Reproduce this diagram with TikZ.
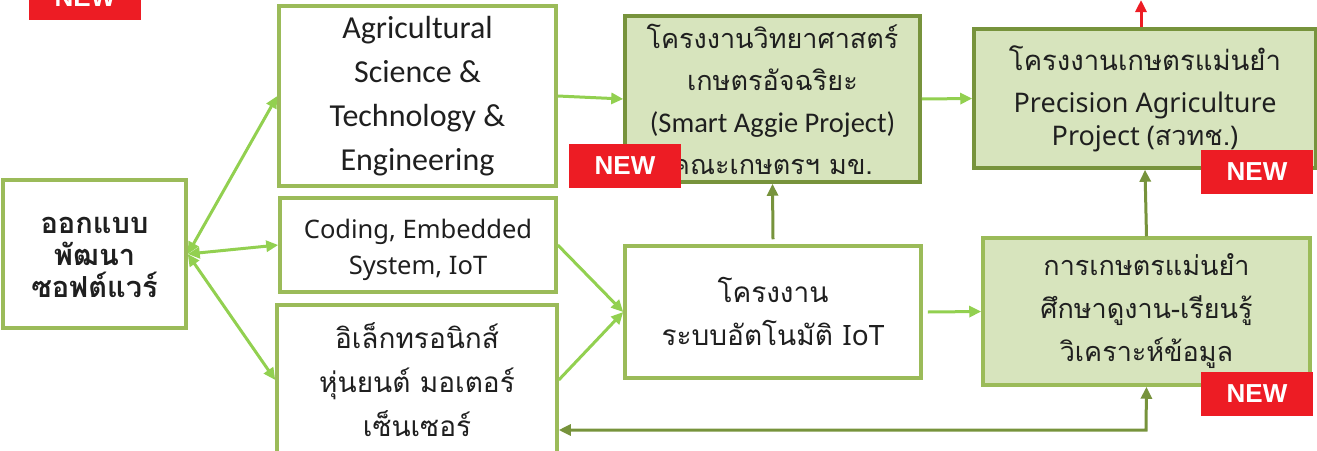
\documentclass[tikz,border=0pt]{standalone}
\usepackage{fontspec}
\setmainfont{Noto Sans}
\newfontfamily\thai[Script=Thai]{Loma}
\newfontfamily\calib{Carlito}
\newfontfamily\tagfont{Liberation Sans}
\usetikzlibrary{arrows.meta}
\definecolor{boxline}{HTML}{9BBB59}
\definecolor{arrowgreen}{HTML}{92D050}
\definecolor{darkline}{HTML}{77933C}
\definecolor{boxfill}{HTML}{D7E4BD}
\definecolor{tagred}{HTML}{ED1C24}
\definecolor{ink}{HTML}{1F1F1F}
\tikzset{
  box/.style={draw=boxline, line width=3.5pt, fill=white, text=ink, align=center, inner sep=0pt},
  projbox/.style={box, draw=darkline, fill=boxfill},
  newtag/.style={fill=tagred, text=white, minimum width=112pt, minimum height=44pt,
    inner sep=0pt, font=\tagfont\bfseries\fontsize{26}{26}\selectfont},
  link/.style={arrowgreen, line width=3pt},
  backlink/.style={darkline, line width=3pt},
  >={Triangle[length=12pt,width=11pt]}
}
\begin{document}
\begin{tikzpicture}[x=1pt,y=-1pt]
\useasboundingbox (0,0) rectangle (1317,450);
\clip (0,0) rectangle (1317,450);
% boxes
\node[box, minimum width=183pt, minimum height=148pt, font=\thai\bfseries\fontsize{29}{32}\selectfont]
  (soft) at (94.5,254) {\rule{0pt}{24pt}ออกแบบ\\พัฒนา\\ซอฟต์แวร์};
\node[box, minimum width=277pt, minimum height=180pt, font=\calib\fontsize{32}{44}\selectfont]
  (agri) at (417.5,96) {Agricultural\\Science \&\\Technology \&\\Engineering};
\node[box, minimum width=276pt, minimum height=94pt, font=\fontsize{25.5}{36}\selectfont]
  (code) at (418,245) {\rule{0pt}{30pt}Coding, Embedded\\System, IoT};
\node[box, minimum width=280pt, minimum height=150pt, font=\thai\fontsize{28}{44}\selectfont]
  (elec) at (417,380) {อิเล็กทรอนิกส์\\หุ่นยนต์ มอเตอร์\\เซ็นเซอร์};
\node[projbox, minimum width=295pt, minimum height=166pt, font=\thai\fontsize{27}{42}\selectfont]
  (smart) at (772.5,99) {โครงงานวิทยาศาสตร์\\เกษตรอัจฉริยะ\\{\calib\fontsize{28.5}{42}\selectfont(Smart Aggie Project)}\\คณะเกษตรฯ มข.};
\node[box, minimum width=296pt, minimum height=132pt, font=\thai\fontsize{28}{43}\selectfont]
  (iot) at (773,312) {โครงงาน\\ระบบอัตโนมัติ {\rmfamily IoT}};
\node[projbox, minimum width=342pt, minimum height=139pt, font=\fontsize{27}{33}\selectfont]
  (prec) at (1145,98.5) {{\thai\fontsize{27.5}{33}\selectfont โครงงานเกษตรแม่นยำ}\\[9pt]Precision Agriculture\\Project ({\thai สวทช.})};
\node[box, fill=boxfill, minimum width=327pt, minimum height=147pt, font=\thai\fontsize{27}{43}\selectfont]
  (field) at (1146.5,311.5) {การเกษตรแม่นยำ\\ศึกษาดูงาน-เรียนรู้\\วิเคราะห์ข้อมูล};
% connectors
\draw[link, <->] (soft.east) -- (agri.west);
\draw[link, <->] (soft.east) -- (code.west);
\draw[link, <->] (soft.east) -- (elec.west);
\draw[link, ->] (agri.east) -- (smart.west);
\draw[link, ->] (code.east) -- (iot.west);
\draw[link, ->] (elec.east) -- (iot.west);
\draw[link, ->] (smart.east) -- (prec.west);
\draw[link, ->] ([xshift=5pt]iot.east) -- (field.west);
\draw[backlink, ->] ([yshift=5pt]iot.north) -- (smart.south);
\draw[backlink, ->] (field.north) -- (prec.south);
\coordinate (turn) at (1146,430);
\draw[backlink, <->] (elec.east |- turn) -- (turn) -- (field.south);
\coordinate (up) at (1141,0);
\draw[tagred, line width=3pt, ->] (prec.north -| up) -- (up);
% NEW tags
\node[newtag] (new1) at (85,-2) {NEW};
\node[newtag] (new2) at (625,166) {NEW};
\node[newtag] (new3) at (1257,172) {NEW};
\node[newtag] (new4) at (1257,394) {NEW};
\end{tikzpicture}
\end{document}
